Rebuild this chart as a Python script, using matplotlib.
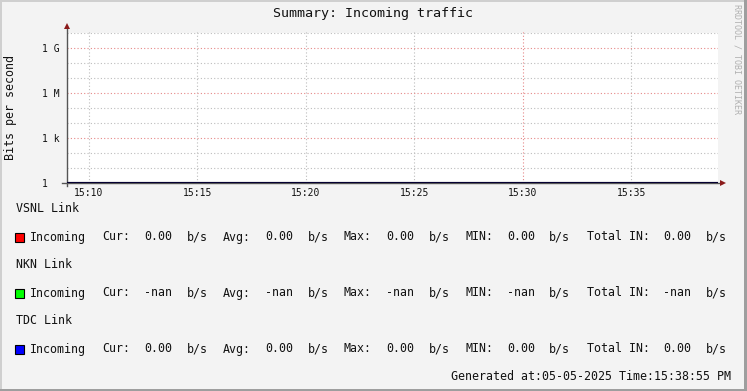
import numpy as np
import pandas as pd
import matplotlib
matplotlib.use("Agg")
import matplotlib.pyplot as plt
import matplotlib.dates as mdates
from matplotlib.patches import Rectangle

W, H = 747, 391          # output size in pixels
MONO = "DejaVu Sans Mono"

# ---------- data ------------------------------------------------------------
times = pd.to_datetime(["2025-05-05 15:05", "2025-05-05 15:10", "2025-05-05 15:15",
                        "2025-05-05 15:20", "2025-05-05 15:25", "2025-05-05 15:30",
                        "2025-05-05 15:35", "2025-05-05 15:40"])
vsnl_in = [0.0, 0.0, 0.0, 0.0, 0.0, 0.0, 0.0, 0.0]
nkn_in = [np.nan, np.nan, np.nan, np.nan, np.nan, np.nan, np.nan, np.nan]
tdc_in = [0.0, 0.0, 0.0, 0.0, 0.0, 0.0, 0.0, 0.0]

links = ["VSNL Link", "NKN Link", "TDC Link"]
link_colors = ["#ff0000", "#00ff00", "#0000ff"]
cur_vals = [0.0, np.nan, 0.0]
avg_vals = [0.0, np.nan, 0.0]
max_vals = [0.0, np.nan, 0.0]
min_vals = [0.0, np.nan, 0.0]
total_vals = [0.0, np.nan, 0.0]

y_ticks = [1, 1e3, 1e6, 1e9]
y_ticklabels = ["1", "1 k", "1 M", "1 G"]
y_minor = [10, 100, 1e4, 1e5, 1e7, 1e8, 1e10]
x_start = pd.Timestamp("2025-05-05 15:09")
x_end = pd.Timestamp("2025-05-05 15:39")
generated = "Generated at:05-05-2025 Time:15:38:55 PM"

MAJOR_GRID = "#e68888"
MINOR_GRID = "#bdbdbd"
DOTS = (0, (1, 2))


# ---------- helpers ---------------------------------------------------------
def fx(x):
    return x / W


def fy(y):
    return 1 - y / H


def fmt(v):
    return "-nan" if np.isnan(v) else f"{v:.2f}"


# ---------- figure ----------------------------------------------------------
fig = plt.figure(figsize=(W / 100, H / 100), dpi=100, facecolor="#f3f3f3")

# bevelled frame like rrdtool
fig.patches.append(Rectangle((0, 1 - 2 / H), 1, 2 / H, transform=fig.transFigure,
                             facecolor="#cfcfcf", lw=0))
fig.patches.append(Rectangle((0, 0), 2 / W, 1, transform=fig.transFigure,
                             facecolor="#cfcfcf", lw=0))
fig.patches.append(Rectangle((0, 0), 1, 2 / H, transform=fig.transFigure,
                             facecolor="#9e9e9e", lw=0))
fig.patches.append(Rectangle((1 - 3 / W, 0), 3 / W, 1, transform=fig.transFigure,
                             facecolor="#9e9e9e", lw=0))

ax = fig.add_axes([fx(67), fy(183), 651 / W, 150 / H])
ax.set_facecolor("white")
for s in ax.spines.values():
    s.set_visible(False)

ax.set_yscale("log")
ax.set_ylim(1, 1e10)
ax.set_xlim(x_start, x_end)

# grid
ax.set_yticks(y_ticks)
ax.set_yticklabels(y_ticklabels)
ax.set_yticks(y_minor, minor=True)
ax.set_yticklabels([""] * len(y_minor), minor=True)
ax.yaxis.grid(True, which="major", color=MAJOR_GRID, lw=0.8, ls=DOTS)
ax.yaxis.grid(True, which="minor", color=MINOR_GRID, lw=0.8, ls=DOTS)

ax.xaxis.set_major_locator(mdates.MinuteLocator(byminute=range(0, 60, 5)))
ax.xaxis.set_major_formatter(mdates.DateFormatter("%H:%M"))
for t in pd.date_range(x_start.ceil("5min"), x_end, freq="5min"):
    col = MAJOR_GRID if t.minute % 30 == 0 else MINOR_GRID
    ax.axvline(t, ymin=0, ymax=1.013, color=col, lw=0.8, ls=DOTS,
               clip_on=False, zorder=0.5)

ax.tick_params(axis="both", which="both", length=0)
ax.tick_params(axis="x", pad=3.5, labelsize=7, labelcolor="#111111")
ax.tick_params(axis="y", pad=18, labelsize=7, labelcolor="#111111")
for lab in ax.get_yticklabels():
    lab.set_horizontalalignment("left")
for lab in ax.get_xticklabels() + ax.get_yticklabels():
    lab.set_fontfamily(MONO)

# axis lines with arrows
ax.plot([0, 0], [-0.02, 1.035], transform=ax.transAxes, color="#555555",
        lw=1, clip_on=False, zorder=3)
ax.plot([-0.008, 1.006], [0, 0], transform=ax.transAxes, color="#555555",
        lw=1, clip_on=False, zorder=3)
ax.plot([0], [1.045], marker="^", ms=4.5, color="#8b1a1a", mew=0,
        transform=ax.transAxes, clip_on=False, zorder=4)
ax.plot([1.008], [0], marker=">", ms=4.5, color="#8b1a1a", mew=0,
        transform=ax.transAxes, clip_on=False, zorder=4)

# data (zero values sit on the floor of the log axis); later links draw on top
for vals, col in zip([vsnl_in, nkn_in, tdc_in], link_colors):
    v = np.clip(np.array(vals, dtype=float), 1, None)
    ax.plot(times, v, color=col, lw=2.0, zorder=3.5)
# the axis is drawn over the lines, leaving them a dark navy
ax.plot([0, 1], [0, 0], transform=ax.transAxes, color="#000000", alpha=0.78,
        lw=1.6, zorder=3.6)

# texts around the chart
fig.text(fx(373), fy(13.5), "Summary: Incoming traffic", ha="center",
         va="center", fontsize=9.6, family=MONO, color="#111111")
fig.text(fx(11), fy(107), "Bits per second", rotation=90, ha="center",
         va="center", fontsize=8.4, family=MONO, color="#111111")
fig.text(fx(737.5), fy(4), "RRDTOOL / TOBI OETIKER", rotation=270, ha="center",
         va="top", fontsize=6, family=MONO, color="#b0b0b0")

# legend
tok_x = [102.3, 144.3, 186.7, 223, 265, 307.7, 343.7, 386, 428.7, 465, 507,
         549.3, 586.7, 663.3, 706]
for i, name in enumerate(links):
    y_head = 209 + i * 56
    y_row = y_head + 28
    fig.text(fx(16), fy(y_head), name, ha="left", va="center", fontsize=8.4,
             family=MONO, color="#111111")
    fig.patches.append(Rectangle((fx(15), fy(y_row + 4.5)), 9 / W, 9 / H,
                                 transform=fig.transFigure,
                                 facecolor=link_colors[i], edgecolor="black",
                                 lw=0.8))
    fig.text(fx(30.3), fy(y_row), "Incoming", ha="left", va="center",
             fontsize=8.4, family=MONO, color="#111111")
    tokens = ["Cur:", fmt(cur_vals[i]), "b/s", "Avg:", fmt(avg_vals[i]), "b/s",
              "Max:", fmt(max_vals[i]), "b/s", "MIN:", fmt(min_vals[i]), "b/s",
              "Total IN:", fmt(total_vals[i]), "b/s"]
    for x, tok in zip(tok_x, tokens):
        fig.text(fx(x), fy(y_row), tok, ha="left", va="center", fontsize=8.4,
                 family=MONO, color="#111111")

fig.text(fx(731), fy(377), generated, ha="right", va="center", fontsize=8.4,
         family=MONO, color="#111111")

fig.savefig("out.png", dpi=100, facecolor=fig.get_facecolor())
